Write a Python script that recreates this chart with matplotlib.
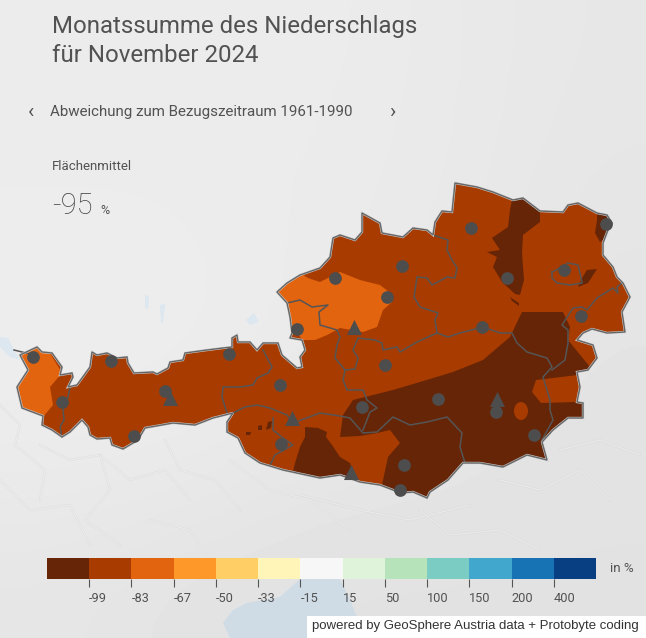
# -*- coding: utf-8 -*-
import numpy as np
import matplotlib
matplotlib.use('Agg')
import matplotlib.pyplot as plt
from matplotlib.patches import Polygon, Ellipse, Rectangle

# legend values
classes = ['-99', '-83', '-67', '-50', '-33', '-15', '15', '50', '100', '150', '200', '400']
class_colors = ['#662506', '#A83B00', '#E3640F', '#FE9929', '#FFCF66', '#FFF5B8', '#F7F7F7',
                '#DFF3DA', '#B6E3BA', '#7BCDC4', '#41A7CC', '#1873B4', '#073F82']

# map outlines, traced in picture pixels
austria = [(20,355),(37,347),(42,352),(52,353),(62,367),(60,375),(72,373),(73,377),(68,387),(77,385),
           (90,367),(92,352),(97,355),(107,353),(117,358),(127,357),(128,363),(134,373),(153,372),(157,374),
           (168,368),(170,362),(183,360),(185,353),(207,350),(223,348),(232,347),(232,338),(237,335),(238,342),
           (250,342),(257,350),(263,343),(278,343),(282,355),(297,368),(302,367),(300,357),(305,350),(302,340),
           (290,338),(292,333),(290,317),(287,303),(277,292),(287,283),(300,275),(320,268),(330,257),(333,238),
           (340,235),(355,240),(362,232),(362,213),(380,223),(382,233),(403,237),(413,228),(427,230),(433,235),
           (435,222),(442,211),(452,212),(455,183),(477,187),(493,192),(513,200),(523,198),(540,211),(563,212),
           (568,205),(578,203),(597,213),(607,215),(612,223),(608,230),(603,243),(603,255),(613,267),(617,277),
           (623,283),(630,297),(622,312),(625,332),(607,333),(592,329),(583,333),(577,340),(593,345),(597,358),
           (588,370),(577,372),(580,387),(577,402),(583,403),(583,418),(568,418),(553,430),(542,442),(547,460),
           (527,455),(503,467),(480,463),(463,463),(448,480),(430,492),(427,498),(413,492),(400,493),(393,490),
           (380,485),(360,482),(340,475),(320,478),(283,470),(260,463),(245,453),(238,438),(227,432),(227,422),
           (233,413),(213,418),(195,425),(173,423),(145,428),(138,440),(123,449),(112,445),(110,438),(97,439),
           (90,435),(88,427),(82,420),(70,432),(62,437),(52,430),(42,425),(43,416),(22,408),(17,387),(28,370)]

# class -83 is the base fill, the other classes sit on top
patch_orange = [[(320,282),(340,272),(360,280),(380,285),(393,295),(392,302),(383,310),(377,327),(363,332),
                 (340,328),(327,335),(320,338),(315,340),(303,340),(285,320),(270,292),(290,268),(300,273),(308,278)],
                [(10,345),(45,345),(62,373),(50,387),(53,405),(43,417),(15,412)]]
patch_dark = [[(522,312),(563,312),(570,327),(568,340),(590,367),(600,375),(595,430),(550,470),(480,480),(440,500),
               (382,495),(382,485),(388,457),(400,443),(390,430),(377,433),(360,436),(340,437),(343,415),(353,400),
               (393,390),(420,382),(453,372),(483,360),(510,337)],
              [(305,427),(318,428),(327,432),(326,437),(332,445),(340,457),(350,463),(353,473),(358,485),(290,485),
               (295,463),(300,447),(305,437)],
              [(513,195),(523,195),(540,212),(540,222),(523,235),(522,253),(524,280),(520,295),(515,294),(502,282),
               (493,267),(497,257),(487,252),(500,250),(492,238),(508,227),(510,210)],
              [(597,210),(610,212),(612,223),(607,237),(600,242),(595,233),(597,220)],
              [(587,270),(597,269),(588,283),(578,287),(582,278)],
              [(510,297),(519,303),(519,306),(512,301)],
              [(246,432),(251,432),(250,435),(246,435)],
              [(258,426),(262,425),(262,430),(258,430)],
              [(268,422),(272,421),(271,428),(266,430)]]
patch_base = [[(536,380),(578,375),(581,388),(577,402),(541,403),(532,392)]]
oval_base = [(521,411,14,18)]

# state borders
borders = [[(70,387),(68,397),(63,410),(64,420),(60,427),(62,437)],
           [(263,350),(272,367),(268,373),(257,378),(253,385),(240,387),(223,387),(222,397),(227,413)],
           [(233,413),(245,407),(257,405),(270,408),(287,415),(293,423),(320,413),(340,416),(350,418),(363,433),
            (377,432),(393,417),(410,425),(427,422),(447,417),(462,433),(460,447),(465,463)],
           [(273,418),(273,430),(283,438),(293,445),(275,455),(270,465)],
           [(287,303),(300,300),(312,307),(328,305),(319,312),(320,325),(337,330),(340,337),(337,345),(335,358),
            (345,370),(343,380),(347,390),(363,390),(367,400),(377,408),(370,412),(363,430)],
           [(345,370),(355,369),(358,358),(353,350),(358,338),(375,340),(382,343),(383,350),(397,347),(400,352),
            (417,342),(437,333),(448,337),(460,333),(483,327),(500,333),(512,333),(517,343),(527,352),(547,358),
            (552,367),(543,377),(550,400),(550,410),(553,420),(542,440)],
           [(552,370),(565,360),(568,343),(568,330),(562,325),(573,308),(582,307),(587,310),(597,298),(613,288),
            (618,293),(617,287),(622,283)],
           [(437,333),(435,320),(438,313),(420,307),(414,297),(417,277),(427,278),(432,285),(447,277),(455,278),
            (457,268),(452,260),(447,250),(448,240),(433,235)],
           [(552,272),(560,268),(568,263),(578,265),(580,273),(582,283),(570,285),(557,283),(552,278),(552,272)],
           [(14,350),(22,352),(30,354)]]

# stations
circle_x = [33,62,111,134,165,229,280,281,297,335,402,387,471,507,564,606,581,482,385,362,438,496,534,404,400]
circle_y = [357,402,361,436,391,354,385,444,329,278,266,297,228,278,270,224,316,327,365,407,399,412,435,465,490]
triangle_x = [354,497,351,170,292]
triangle_y = [327,399,472,398,418]

# lakes
lake_soft = [[(0,337),(8,338),(14,350),(20,360),(10,357),(0,347)],
             [(145,295),(149,296),(148,309),(145,308)],
             [(160,305),(165,304),(163,323),(161,322)],
             [(246,320),(254,313),(259,322),(250,325)]]
lake_garda = [(300,579),(340,579),(350,600),(357,617),(357,638),(230,638),(223,623),(233,610),(247,603),(280,597)]

# faint ridge lines of the relief south of the border
ridge_lines = [[(0,405),(20,425),(15,445),(45,470),(40,500)],
               [(40,445),(70,460),(100,455),(130,480),(165,470),(190,500)],
               [(100,455),(110,490),(85,520),(120,545)],
               [(165,440),(180,470),(215,480),(240,510)],
               [(230,460),(270,490),(310,500),(350,530)],
               [(300,495),(360,510),(410,520),(470,505)],
               [(420,510),(450,535),(500,530),(540,550)],
               [(500,480),(540,490),(580,470),(610,500)],
               [(0,480),(30,510),(70,505),(90,545)],
               [(150,520),(190,530),(210,560)],
               [(560,450),(600,440),(640,455)]]

fig = plt.figure(figsize=(6.46, 6.38), dpi=100)
ax = fig.add_axes([0, 0, 1, 1])
ax.set_xlim(0, 646)
ax.set_ylim(638, 0)
ax.axis('off')

# soft background
back = np.array([[0.925, 0.925, 0.925, 0.915, 0.905],
                 [0.925, 0.925, 0.92, 0.915, 0.90],
                 [0.93, 0.93, 0.92, 0.91, 0.895],
                 [0.925, 0.92, 0.905, 0.90, 0.89],
                 [0.90, 0.89, 0.885, 0.885, 0.885]])
ax.imshow(back, cmap='gray', vmin=0, vmax=1, extent=(0, 646, 638, 0), aspect='auto', interpolation='bicubic')
for r in ridge_lines:
    xs, ys = zip(*r)
    ax.plot(xs, ys, color='#D2D2D2', lw=1.6, alpha=0.45, zorder=1)
    ax.plot(xs, ys, color='#F6F6F6', lw=0.8, alpha=0.6, zorder=1)
for lake in lake_soft:
    ax.add_patch(Polygon(lake, closed=True, fc='#DCE7F0', ec='none', zorder=1))
ax.add_patch(Polygon(lake_garda, closed=True, fc='#CFDCE6', ec='none', zorder=1))

land = Polygon(austria, closed=True, fc=class_colors[1], ec='none', zorder=2)
ax.add_patch(land)

for p in patch_orange:
    q = Polygon(p, closed=True, fc=class_colors[2], ec='none', zorder=3)
    ax.add_patch(q)
    q.set_clip_path(land)
for p in patch_dark:
    q = Polygon(p, closed=True, fc=class_colors[0], ec='none', zorder=3)
    ax.add_patch(q)
    q.set_clip_path(land)
for p in patch_base:
    q = Polygon(p, closed=True, fc=class_colors[1], ec='none', zorder=4)
    ax.add_patch(q)
    q.set_clip_path(land)
for x, y, w, h in oval_base:
    ax.add_patch(Ellipse((x, y), w, h, fc=class_colors[1], ec='none', zorder=4))

for b in borders:
    xs, ys = zip(*b)
    ax.plot(xs, ys, color='#555555', lw=1.1, zorder=5, solid_joinstyle='round')
ax.add_patch(Polygon(austria, closed=True, fc='none', ec='#CFCFCF', lw=1.7, zorder=5))
ax.add_patch(Polygon(austria, closed=True, fc='none', ec='#666666', lw=1.0, zorder=6))

ax.scatter(circle_x, circle_y, s=84, color='#4D4D4D', lw=0, zorder=7)
ax.scatter(triangle_x, triangle_y, s=118, marker='^', color='#4D4D4D', lw=0, zorder=7)

# texts
grey = '#525252'
font = 'Roboto'
ax.text(52, 27, 'Monatssumme des Niederschlags', family=font, fontsize=17.3, color=grey, va='center')
ax.text(52, 55, 'für November 2024', family=font, fontsize=17.3, color=grey, va='center')
ax.text(50, 112, 'Abweichung zum Bezugszeitraum 1961-1990', family=font, fontsize=10.9, color=grey, va='center')
ax.text(31, 112, '‹', family=font, fontsize=15, color=grey, va='center', ha='center')
ax.text(392, 112, '›', family=font, fontsize=15, color=grey, va='center', ha='center')
ax.text(52, 167, 'Flächenmittel', family=font, fontsize=9.5, color=grey, va='center')
ax.text(52, 206, '-95', family=font, weight='light', fontsize=21, color='#444444', va='center')
ax.text(100, 210, '%', family=font, fontsize=9, color=grey, va='center')
ax.text(610, 569, 'in %', family=font, fontsize=9.6, color=grey, va='center')

ax.add_patch(Rectangle((307, 616), 339, 22, fc='white', ec='none', zorder=8))
ax.text(312, 626, 'powered by GeoSphere Austria data + Protobyte coding', family='Liberation Sans',
        fontsize=9.55, color='#333333', va='center', zorder=9)

# colour legend
leg = fig.add_axes([47/646, 1 - 579/638, (596-47)/646, 21/638])
leg.bar(range(13), [1]*13, width=1, align='edge', color=class_colors)
leg.set_xlim(0, 13)
leg.set_ylim(0, 1)
leg.set_yticks([])
leg.set_xticks(range(1, 13))
leg.set_xticklabels(classes, ha='left', family=font, fontsize=9.2, color=grey)
leg.tick_params(axis='x', length=6, width=0.8, color='#555555', pad=3)
for s in leg.spines.values():
    s.set_visible(False)

fig.savefig('out.png', dpi=100)
